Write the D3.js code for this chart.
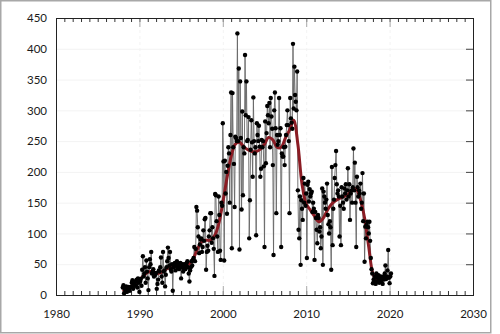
<!DOCTYPE html>
<html>
<head>
<meta charset="utf-8">
<script src="https://cdn.jsdelivr.net/npm/d3@7"></script>
<style>
  body { margin: 0; background: #fff; }
  svg { display: block; }
  .tick text { font-family: Lato, "DejaVu Sans", sans-serif; font-size: 11.5px; fill: #1a1a1a; }
</style>
</head>
<body>
<svg id="chart" width="500" height="334"></svg>
<script>
// monthly values, first month = Jan 1988
var startYear = 1988;
var monthly = [
  12, 16, 3, 10, 8, 14, 5, 9, 13, 11, 7, 13,            // 1988
  13, 20, 24, 10, 18, 15, 22, 16, 25, 12, 27, 20,       // 1989
  5, 22, 26, 15, 41, 63, 30, 35, 45, 20, 56, 38,        // 1990
  27, 8, 45, 58, 50, 70, 35, 38, 42, 30, 35, 33,        // 1991
  36, 10, 18, 25, 40, 38, 45, 61, 30, 20, 70, 38,       // 1992
  40, 14, 33, 45, 55, 77, 60, 48, 70, 42, 38, 50,       // 1993
  7, 45, 48, 52, 40, 48, 55, 45, 50, 42, 47, 52,        // 1994
  27, 45, 50, 38, 43, 50, 42, 48, 52, 55, 45, 35,       // 1995
  22, 40, 45, 55, 48, 57, 60, 78, 55, 75, 143, 137,     // 1996
  110, 95, 68, 82, 90, 92, 70, 78, 105, 88, 123, 125,   // 1997
  41, 70, 80, 72, 95, 105, 133, 133, 85, 110, 92, 75,   // 1998
  31, 164, 162, 120, 95, 70, 160, 130, 72, 57, 150, 145, // 1999
  279, 217, 56, 218, 165, 200, 132, 210, 240, 230, 150, 260, // 2000
  329, 76, 328, 240, 213, 143, 257, 255, 250, 425, 250, 368, // 2001
  74, 347, 255, 139, 298, 162, 240, 230, 390, 292, 347, 250, // 2002
  252, 289, 92, 154, 236, 284, 248, 192, 321, 250, 230, 240, // 2003
  97, 279, 260, 250, 275, 241, 192, 205, 252, 240, 250, 209, // 2004
  78, 282, 214, 263, 307, 292, 279, 312, 240, 320, 290, 270, // 2005
  211, 65, 300, 329, 271, 133, 260, 244, 250, 320, 260, 271, // 2006
  78, 230, 225, 225, 240, 211, 241, 260, 276, 300, 276, 250, // 2007
  133, 320, 287, 280, 270, 408, 303, 371, 325, 314, 300, 363, // 2008
  170, 106, 92, 160, 49, 154, 140, 122, 190, 150, 181, 145,  // 2009
  165, 60, 179, 184, 152, 172, 160, 165, 168, 135, 150, 140, // 2010
  57, 135, 125, 106, 84, 130, 125, 103, 110, 76, 95, 173,    // 2011
  49, 168, 160, 150, 140, 155, 181, 130, 115, 100, 120, 110, // 2012
  41, 208, 81, 140, 155, 190, 211, 234, 180, 165, 170, 160,  // 2013
  95, 145, 81, 175, 160, 150, 140, 173, 165, 180, 155, 170,  // 2014
  206, 160, 180, 122, 165, 170, 150, 175, 238, 170, 215, 150, // 2015
  78, 192, 175, 160, 170, 165, 181, 140, 150, 198, 120, 165, // 2016
  54, 111, 92, 114, 119, 110, 100, 119, 88, 60, 42, 35,      // 2017
  19, 25, 22, 30, 18, 35, 28, 22, 32, 20, 26, 30,            // 2018
  22, 28, 18, 30, 25, 35, 48, 26, 30, 40, 73, 28,            // 2019
  19, 30, 35                                                 // 2020
];

// smoothed trend
var trendYears = [1988.0, 1988.5, 1989.0, 1989.5, 1990.0, 1990.5, 1991.0, 1991.5, 1992.0, 1992.5,
  1993.0, 1993.5, 1994.0, 1994.5, 1995.0, 1995.5, 1996.0, 1996.5, 1997.0, 1997.5,
  1998.0, 1998.5, 1999.0, 1999.5, 2000.0, 2000.5, 2001.0, 2001.5, 2002.0, 2002.5,
  2003.0, 2003.5, 2004.0, 2004.5, 2005.0, 2005.5, 2006.0, 2006.5, 2007.0, 2007.5,
  2008.0, 2008.5, 2009.0, 2009.5, 2010.0, 2010.5, 2011.0, 2011.5, 2012.0, 2012.5,
  2013.0, 2013.5, 2014.0, 2014.5, 2015.0, 2015.5, 2016.0, 2016.5, 2017.0, 2017.5,
  2018.0, 2018.5, 2019.0, 2019.5, 2020.0, 2020.2];
var trendValues = [6, 10, 14, 19, 25, 31, 37, 38, 35, 36,
  40, 44, 47, 47, 46, 47, 51, 60, 76, 87,
  89, 89, 96, 115, 150, 190, 225, 245, 248, 241,
  236, 233, 233, 237, 245, 256, 252, 240, 240, 255,
  268, 284, 245, 180, 148, 138, 128, 119, 124, 137,
  147, 153, 157, 160, 163, 171, 172, 155, 125, 78,
  35, 24, 25, 28, 30, 28];

var xTicks = [1980, 1990, 2000, 2010, 2020, 2030];
var yTicks = [0, 50, 100, 150, 200, 250, 300, 350, 400, 450];

var margin = { top: 18, right: 27, bottom: 39, left: 56 };
var width = 500 - margin.left - margin.right;
var height = 334 - margin.top - margin.bottom;

var svg = d3.select("#chart");

// outer frame
svg.append("rect")
    .attr("x", 0.75).attr("y", 0.75)
    .attr("width", 490).attr("height", 332)
    .attr("fill", "none")
    .attr("stroke", "#a8a8a8")
    .attr("stroke-width", 1.5);

var g = svg.append("g").attr("transform", "translate(" + margin.left + "," + margin.top + ")");

var x = d3.scaleLinear().domain([1980, 2030]).range([0, width]);
var y = d3.scaleLinear().domain([0, 450]).range([height, 0]);

// faint grid
g.append("g").selectAll("line.hg")
    .data(yTicks.slice(1, -1))
    .enter().append("line")
    .attr("x1", 0).attr("x2", width)
    .attr("y1", function(d) { return y(d) + 0.5; })
    .attr("y2", function(d) { return y(d) + 0.5; })
    .attr("stroke", "#f3f3f3");
g.append("g").selectAll("line.vg")
    .data(xTicks.slice(1, -1))
    .enter().append("line")
    .attr("y1", 0).attr("y2", height)
    .attr("x1", function(d) { return x(d) + 0.5; })
    .attr("x2", function(d) { return x(d) + 0.5; })
    .attr("stroke", "#f3f3f3")
    .attr("stroke-dasharray", "3,3");

// minor year ticks on top and bottom
var years = d3.range(1980, 2031);
var xBottomMinor = d3.axisBottom(x).tickValues(years).tickSize(-4).tickFormat("");
var xTopMinor = d3.axisTop(x).tickValues(years).tickSize(-4).tickFormat("");
g.append("g").attr("transform", "translate(0," + height + ")").call(xBottomMinor)
    .call(function(s) { s.select(".domain").remove(); s.selectAll("line").attr("stroke", "#333"); });
g.append("g").call(xTopMinor)
    .call(function(s) { s.select(".domain").remove(); s.selectAll("line").attr("stroke", "#333"); });

// major ticks + labels
var xAxis = d3.axisBottom(x).tickValues(xTicks).tickSize(-9).tickPadding(15).tickFormat(d3.format("d"));
g.append("g").attr("transform", "translate(0," + height + ")").call(xAxis)
    .call(function(s) { s.select(".domain").remove(); s.selectAll("line").attr("stroke", "#aaa"); });
g.append("g").call(d3.axisTop(x).tickValues(xTicks).tickSize(-9).tickFormat(""))
    .call(function(s) { s.select(".domain").remove(); s.selectAll("line").attr("stroke", "#aaa"); });

var yAxis = d3.axisLeft(y).tickValues(yTicks).tickSize(0).tickPadding(9);
g.append("g").call(yAxis)
    .call(function(s) { s.select(".domain").remove(); });
g.append("g").attr("transform", "translate(" + width + ",0)")
    .call(d3.axisRight(y).tickValues(yTicks).tickSize(-7).tickFormat(""))
    .call(function(s) { s.select(".domain").remove(); s.selectAll("line").attr("stroke", "#444"); });

// plot border
g.append("rect")
    .attr("x", 0.5).attr("y", 0.5)
    .attr("width", width).attr("height", height)
    .attr("fill", "none")
    .attr("stroke", "#222");

var points = monthly.map(function(v, i) { return [startYear + i / 12, v]; });

var line = d3.line()
    .x(function(d) { return x(d[0]); })
    .y(function(d) { return y(d[1]); });

g.append("path")
    .datum(points)
    .attr("d", line)
    .attr("fill", "none")
    .attr("stroke", "#666")
    .attr("stroke-width", 0.9);

var trend = trendYears.map(function(t, i) { return [t, trendValues[i]]; });
g.append("path")
    .datum(trend)
    .attr("d", line.curve(d3.curveCatmullRom))
    .attr("fill", "none")
    .attr("stroke", "#8b1c24")
    .attr("stroke-width", 3);

g.selectAll("circle.pt")
    .data(points)
    .enter().append("circle")
    .attr("class", "pt")
    .attr("cx", function(d) { return x(d[0]); })
    .attr("cy", function(d) { return y(d[1]); })
    .attr("r", 2.2)
    .attr("fill", "#000");
</script>
</body>
</html>
